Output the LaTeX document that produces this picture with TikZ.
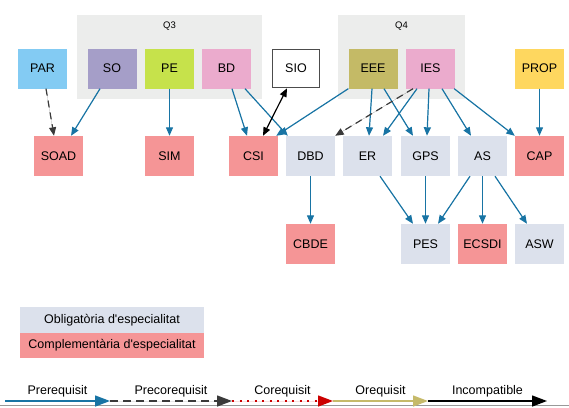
\documentclass[tikz,border=0pt]{standalone}
\usepackage{fontspec}
\setmainfont{Liberation Sans}
\usetikzlibrary{arrows.meta,calc}
\definecolor{prereqblue}{HTML}{1874A4}
\definecolor{precoregray}{HTML}{3A3A3A}
\definecolor{coreqred}{HTML}{CC0000}
\definecolor{oreqkhaki}{HTML}{C6BA6A}
\definecolor{obliggray}{HTML}{DCE1EC}
\definecolor{complred}{HTML}{F59596}
\definecolor{clustergray}{HTML}{ECEDEC}
\definecolor{parblue}{HTML}{83CBF3}
\definecolor{solilac}{HTML}{A59EC8}
\definecolor{pegreen}{HTML}{C6E24B}
\definecolor{bdpink}{HTML}{EBABCD}
\definecolor{eeekhaki}{HTML}{C4BA66}
\definecolor{propgold}{HTML}{FED75F}

\begin{document}
\begin{tikzpicture}[
    x=1pt, y=-1pt,
    font=\fontsize{12.5}{15}\selectfont,
    course/.style={minimum width=49pt, minimum height=40pt, inner sep=0pt},
    oblig/.style={course, fill=obliggray},
    compl/.style={course, fill=complred},
    cluster/.style={fill=clustergray, inner sep=0pt},
    quarter/.style={font=\fontsize{9.5}{11}\selectfont},
    prereq/.style={-{Triangle[length=8.5pt,width=7pt]}, line width=1.2pt, draw=prereqblue, fill=prereqblue},
    precoreq/.style={-{Triangle[length=8.5pt,width=7pt]}, line width=1.2pt, draw=precoregray, fill=precoregray, dash pattern=on 7pt off 5pt},
    incomp/.style={{Triangle[length=8.5pt,width=7pt]}-{Triangle[length=8.5pt,width=7pt]}, line width=1.2pt, draw=black},
    legtip/.style={-{Triangle[length=15pt,width=11pt]}, line width=1.4pt}
  ]
    \useasboundingbox (0,0) rectangle (569,407);

    \node[cluster, minimum width=185pt, minimum height=84pt] (q3box) at (169.5,57) {};
    \node[quarter] (q3) at (169.5,26) {Q3};
    \node[cluster, minimum width=127pt, minimum height=84pt] (q4box) at (401.5,57) {};
    \node[quarter] (q4) at (401.5,26) {Q4};

    \node[course, fill=parblue] (par) at (42.5,68.5) {PAR};
    \node[course, fill=solilac] (so) at (112,68.5) {SO};
    \node[course, fill=pegreen] (pe) at (169.5,68.5) {PE};
    \node[course, fill=bdpink] (bd) at (226.5,68.5) {BD};
    \node[course, fill=white, draw=black!70, line width=1.6pt, minimum width=47pt, minimum height=38pt] (sio) at (296,68.5) {SIO};
    \node[course, fill=eeekhaki] (eee) at (373,68.5) {EEE};
    \node[course, fill=bdpink] (ies) at (430.5,68.5) {IES};
    \node[course, fill=propgold] (prop) at (539.5,68.5) {PROP};

    \node[compl] (soad) at (58.5,156) {SOAD};
    \node[compl] (sim) at (169.5,156) {SIM};
    \node[compl] (csi) at (253.5,156) {CSI};
    \node[oblig] (dbd) at (310.5,156) {DBD};
    \node[oblig] (er) at (367.5,156) {ER};
    \node[oblig] (gps) at (425.5,156) {GPS};
    \node[oblig] (as) at (482.5,156) {AS};
    \node[compl] (cap) at (539.5,156) {CAP};

    \node[compl] (cbde) at (310.5,244) {CBDE};
    \node[oblig] (pes) at (425.5,244) {PES};
    \node[compl] (ecsdi) at (482.5,244) {ECSDI};
    \node[oblig] (asw) at (539.5,244) {ASW};

    \draw[precoreq] ([xshift=3.5pt]par.south) -- ([xshift=-4.5pt]soad.north);
    \draw[prereq] ([xshift=-12pt]so.south) -- ([xshift=12.5pt]soad.north);
    \draw[prereq] (pe) -- (sim);
    \draw[prereq] ([xshift=5.5pt]bd.south) -- ([xshift=-6.5pt]csi.north);
    \draw[prereq] ([xshift=18.5pt]bd.south) -- ([xshift=2pt]dbd.north west);
    \draw[incomp] ([xshift=9.5pt]csi.north) -- ([xshift=-9pt]sio.south);
    \draw[prereq] (eee.south west) -- ([xshift=-2pt]csi.north east);
    \draw[prereq] ([xshift=-1pt]eee.south) -- ([xshift=1.5pt]er.north);
    \draw[prereq] ([xshift=11pt]eee.south) -- ([xshift=-12.5pt]gps.north);
    \draw[precoreq] ([xshift=-17.5pt]ies.south) -- (dbd.north east);
    \draw[prereq] ([xshift=-13.5pt]ies.south) -- ([xshift=15.5pt]er.north);
    \draw[prereq] ([xshift=-1.5pt]ies.south) -- ([xshift=1.5pt]gps.north);
    \draw[prereq] ([xshift=11.5pt]ies.south) -- ([xshift=-11.5pt]as.north);
    \draw[prereq] ([xshift=-1pt]ies.south east) -- (cap.north west);
    \draw[prereq] (prop) -- (cap);
    \draw[prereq] (dbd) -- (cbde);
    \draw[prereq] ([xshift=12.5pt]er.south) -- ([xshift=-12.5pt]pes.north);
    \draw[prereq] (gps) -- (pes);
    \draw[prereq] ([xshift=-12.5pt]as.south) -- ([xshift=12.5pt]pes.north);
    \draw[prereq] (as) -- (ecsdi);
    \draw[prereq] ([xshift=12.5pt]as.south) -- ([xshift=-12.5pt]asw.north);

    \node[oblig, minimum width=184pt, minimum height=26pt] (legoblig) at (112,320) {Obligatòria d\textquotesingle especialitat};
    \node[compl, minimum width=184pt, minimum height=25pt] (legcompl) at (112,345.5) {Complementària d\textquotesingle especialitat};

    \coordinate (l0) at (5,401);
    \coordinate (l1) at (110,401);
    \coordinate (l2) at (232,401);
    \coordinate (l3) at (333,401);
    \coordinate (l4) at (428,401);
    \coordinate (l5) at (547,401);
    \draw[black!40, line width=1.2pt] (0,405.6) -- (569,405.6);
    \draw[legtip, draw=prereqblue, fill=prereqblue] (l0) -- (l1);
    \draw[legtip, draw=precoregray, fill=precoregray, dash pattern=on 8pt off 5pt] (l1) -- (l2);
    \draw[legtip, draw=coreqred, fill=coreqred, dash pattern=on 2pt off 5.5pt] (l2) -- (l3);
    \draw[legtip, draw=oreqkhaki, fill=oreqkhaki] (l3) -- (l4);
    \draw[legtip, draw=black, fill=black] (l4) -- (l5);
    \node[anchor=base] (lprereq) at ($(l0)!.5!(l1)+(0,-7)$) {Prerequisit};
    \node[anchor=base] (lprecoreq) at ($(l1)!.5!(l2)+(0,-7)$) {Precorequisit};
    \node[anchor=base] (lcoreq) at ($(l2)!.5!(l3)+(0,-7)$) {Corequisit};
    \node[anchor=base] (loreq) at ($(l3)!.5!(l4)+(0,-7)$) {Orequisit};
    \node[anchor=base] (lincomp) at ($(l4)!.5!(l5)+(0,-7)$) {Incompatible};
  \end{tikzpicture}
\end{document}
